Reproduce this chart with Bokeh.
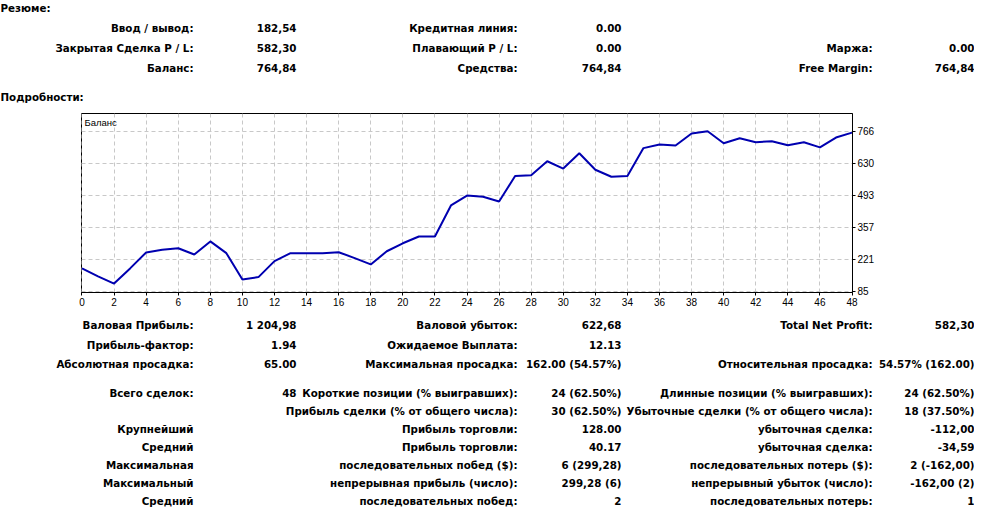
from bokeh.plotting import figure
from bokeh.layouts import column, row
from bokeh.models import Range1d, FixedTicker, Label, ColumnDataSource, Spacer
from bokeh.core.properties import value
from bokeh.embed import file_html
from bokeh.resources import INLINE

# ---------------- data ----------------
trade_index = list(range(0, 49))
balance = [182.54, 148, 117.54, 182, 250, 261, 268, 241, 296.87, 246.87,
           134.87, 145, 213, 247, 247, 247, 251, 226, 199, 255,
           289, 318, 318, 450, 492, 487, 467, 575, 579, 638,
           607, 672, 602, 572, 575, 694, 709, 705, 756, 766,
           715, 736, 719, 723, 706, 719, 697, 739, 760]
x_ticks = [0, 2, 4, 6, 8, 10, 12, 14, 16, 18, 20, 22, 24, 26, 28, 30, 32, 34, 36, 38, 40, 42, 44, 46, 48]
y_ticks = [85, 221, 357, 493, 630, 766]
series_name = "Баланс"

summary_title = "Резюме:"
details_title = "Подробности:"
top_lab1 = ["Ввод / вывод:", "Закрытая Сделка P / L:", "Баланс:"]
top_val1 = ["182,54", "582,30", "764,84"]
top_lab2 = ["Кредитная линия:", "Плавающий P / L:", "Средства:"]
top_val2 = ["0.00", "0.00", "764,84"]
top_lab3 = ["", "Маржа:", "Free Margin:"]
top_val3 = ["", "0.00", "764,84"]

bot_lab1 = ["Валовая Прибыль:", "Прибыль-фактор:", "Абсолютная просадка:", "Всего сделок:", "",
            "Крупнейший", "Средний", "Максимальная", "Максимальный", "Средний"]
bot_val1 = ["1 204,98", "1.94", "65.00", "48", "", "", "", "", "", ""]
bot_lab2 = ["Валовой убыток:", "Ожидаемое Выплата:", "Максимальная просадка:",
            "Короткие позиции (% выигравших):", "Прибыль сделки (% от общего числа):",
            "Прибыль торговли:", "Прибыль торговли:", "последовательных побед ($):",
            "непрерывная прибыль (число):", "последовательных побед:"]
bot_val2 = ["622,68", "12.13", "162.00 (54.57%)", "24 (62.50%)", "30 (62.50%)",
            "128.00", "40.17", "6 (299,28)", "299,28 (6)", "2"]
bot_lab3 = ["Total Net Profit:", "", "Относительная просадка:", "Длинные позиции (% выигравших):",
            "Убыточные сделки (% от общего числа):", "убыточная сделка:", "убыточная сделка:",
            "последовательных потерь ($):", "непрерывный убыток (число):", "последовательных потерь:"]
bot_val3 = ["582,30", "", "54.57% (162.00)", "24 (62.50%)", "18 (37.50%)", "-112,00", "-34,59",
            "2 (-162,00)", "-162,00 (2)", "1"]

# ---------------- layout constants (pixels) ----------------
W = 974
TOP_H = 104
CHART_H = 208
BOT_H = 197
LEFT_PAD = 72
COLS = [193, 296, 517, 621, 872, 974]          # right edges of text columns
TOP_ROWS = [27, 47, 67]
TITLE_ROWS = [7, 96]
BOT_ROWS = [12, 32, 51, 80, 98, 116, 134, 152, 170, 188]
FONT_SIZE = "10.3px"


def text_panel(h):
    p = figure(width=W, height=h, x_range=Range1d(0, W), y_range=Range1d(h, 0),
               output_backend="svg", toolbar_location=None,
               x_axis_type=None, y_axis_type=None, min_border=0,
               outline_line_color=None, background_fill_color="white",
               border_fill_color="white")
    p.grid.visible = False
    return p


def add_col(p, xpos, rows, texts, align="right"):
    src = ColumnDataSource(dict(x=[xpos] * len(rows), y=rows, t=texts))
    p.text(x="x", y="y", text="t", source=src, text_align=align,
           text_baseline="middle", text_font=value("DejaVu Sans"), text_font_style="bold",
           text_font_size=FONT_SIZE, text_color="black")


top = text_panel(TOP_H)
add_col(top, 0, TITLE_ROWS, [summary_title, details_title], "left")
for xpos, texts in zip(COLS, [top_lab1, top_val1, top_lab2, top_val2, top_lab3, top_val3]):
    add_col(top, xpos, TOP_ROWS, texts)

bottom = text_panel(BOT_H)
for xpos, texts in zip(COLS, [bot_lab1, bot_val1, bot_lab2, bot_val2, bot_lab3, bot_val3]):
    add_col(bottom, xpos, BOT_ROWS, texts)

# ---------------- chart ----------------
chart = figure(width=W - LEFT_PAD, height=CHART_H,
               x_range=Range1d(-0.03, 48.03), y_range=Range1d(79.5, 841.3),
               output_backend="svg", toolbar_location=None,
               y_axis_location="right",
               min_border_left=9, min_border_right=W - LEFT_PAD - 9 - 771,
               min_border_top=9, min_border_bottom=20,
               outline_line_color="black", outline_line_width=1,
               background_fill_color="white", border_fill_color="white")

chart.xaxis.ticker = FixedTicker(ticks=x_ticks)
chart.yaxis.ticker = FixedTicker(ticks=y_ticks)
for ax in (chart.xaxis, chart.yaxis):
    ax.axis_line_color = "black"
    ax.major_tick_line_color = "black"
    ax.minor_tick_line_color = None
    ax.major_tick_in = 0
    ax.major_tick_out = 3
    ax.major_label_standoff = 2
    ax.major_label_text_font = "Liberation Sans"
    ax.major_label_text_font_size = "10px"
    ax.major_label_text_color = "black"

for g in (chart.xgrid, chart.ygrid):
    g.grid_line_color = "#c8c8c8"
    g.grid_line_dash = "4 3"
    g.grid_line_width = 1

src = ColumnDataSource(dict(x=trade_index, y=balance))
chart.line(x="x", y="y", source=src, line_color="#0000b0", line_width=2)

chart.add_layout(Label(x=-0.03, y=841.3, x_offset=3, y_offset=-3, text=series_name,
                       text_baseline="top", text_font="Liberation Sans",
                       text_font_size="9.5px", text_color="black"))

layout = column(top, row(Spacer(width=LEFT_PAD, height=CHART_H), chart), bottom)
open("out.html", "w").write(file_html(layout, INLINE))
